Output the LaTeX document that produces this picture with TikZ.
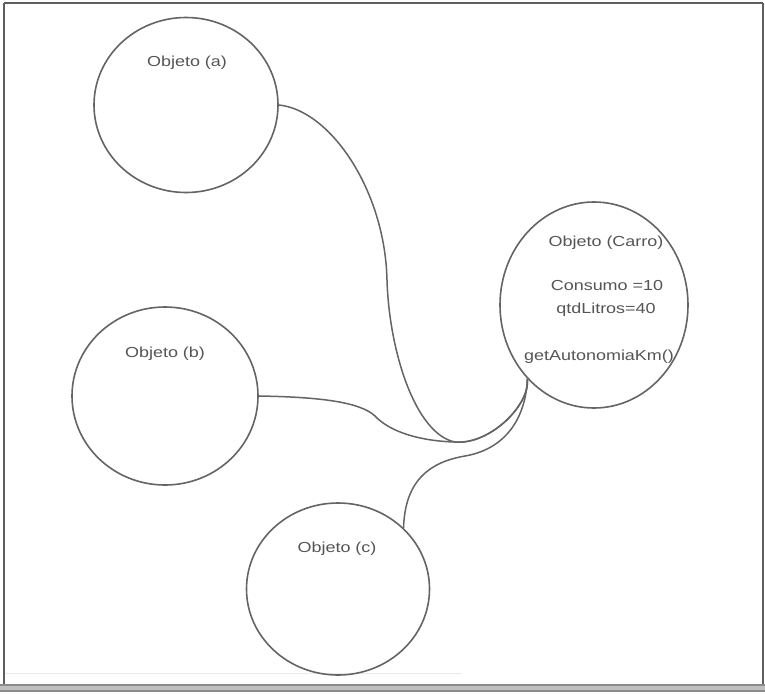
\documentclass[tikz,border=0pt]{standalone}
\usepackage{fontspec}
\setmainfont{Liberation Sans}
\usetikzlibrary{shapes.geometric}
\definecolor{inkgray}{RGB}{100,100,100}
\definecolor{txtgray}{RGB}{85,85,85}
\definecolor{framegray}{RGB}{95,95,95}
\definecolor{bargray}{RGB}{140,140,140}
\newcommand{\lbl}[1]{\scalebox{1.24}[1]{#1}}
\begin{document}
\begin{tikzpicture}[x=1pt,y=-1pt,
  objcircle/.style={ellipse,draw=inkgray,line width=1.6pt,inner sep=0pt},
  objtext/.style={text=txtgray,font=\fontsize{14.5}{17}\selectfont,inner sep=0pt,align=center},
  link/.style={draw=inkgray,line width=1.5pt}]
  \useasboundingbox (0,0) rectangle (765,694);
  \fill[white] (0,0) rectangle (765,694);

  % window frame
  \draw[framegray,line width=1.8pt] (4,3) -- (763,3);
  \draw[framegray,line width=1.8pt] (4,3) -- (4,686);
  \draw[framegray,line width=1.8pt] (763,3) -- (763,686);
  \draw[black!8,line width=1pt] (5,673) -- (462,673);
  \fill[bargray] (0,684) rectangle (765,692);
  \fill[black!25] (0,686) rectangle (765,690);

  % objects
  \node[objcircle,minimum width=184pt,minimum height=175pt] (a) at (186,105) {};
  \node[objcircle,minimum width=186pt,minimum height=178pt] (b) at (165,396) {};
  \node[objcircle,minimum width=183pt,minimum height=172pt] (c) at (338,589) {};
  \node[objcircle,minimum width=188pt,minimum height=206pt] (carro) at (594,305) {};

  \node[objtext] (ta) at (187,63) {\lbl{Objeto (a)}};
  \node[objtext] (tb) at (165,354) {\lbl{Objeto (b)}};
  \node[objtext] (tc) at (337,549) {\lbl{Objeto (c)}};
  \node[objtext] (tcarro) at (606,243) {\lbl{Objeto (Carro)}};
  \node[objtext] (tcons) at (607,286) {\lbl{Consumo =10}};
  \node[objtext] (tqtd) at (606,310) {\lbl{qtdLitros=40}};
  \node[objtext] (tget) at (599,357) {\lbl{getAutonomiaKm()}};

  % connectors to the car object
  \draw[link] (a.east) .. controls (330,110) and (385,190) .. (387,280)
    .. controls (389,350) and (415,434) .. (455,442)
    .. controls (490,445) and (530,405) .. (carro.228);
  \draw[link] (b.east) .. controls (320,397) and (360,402) .. (375,416)
    .. controls (390,432) and (420,441) .. (455,442)
    .. controls (490,445) and (530,405) .. (carro.228);
  \draw[link] (c.43) .. controls (405,480) and (430,462) .. (465,456)
    .. controls (500,450) and (525,425) .. (carro.228);
\end{tikzpicture}
\end{document}
